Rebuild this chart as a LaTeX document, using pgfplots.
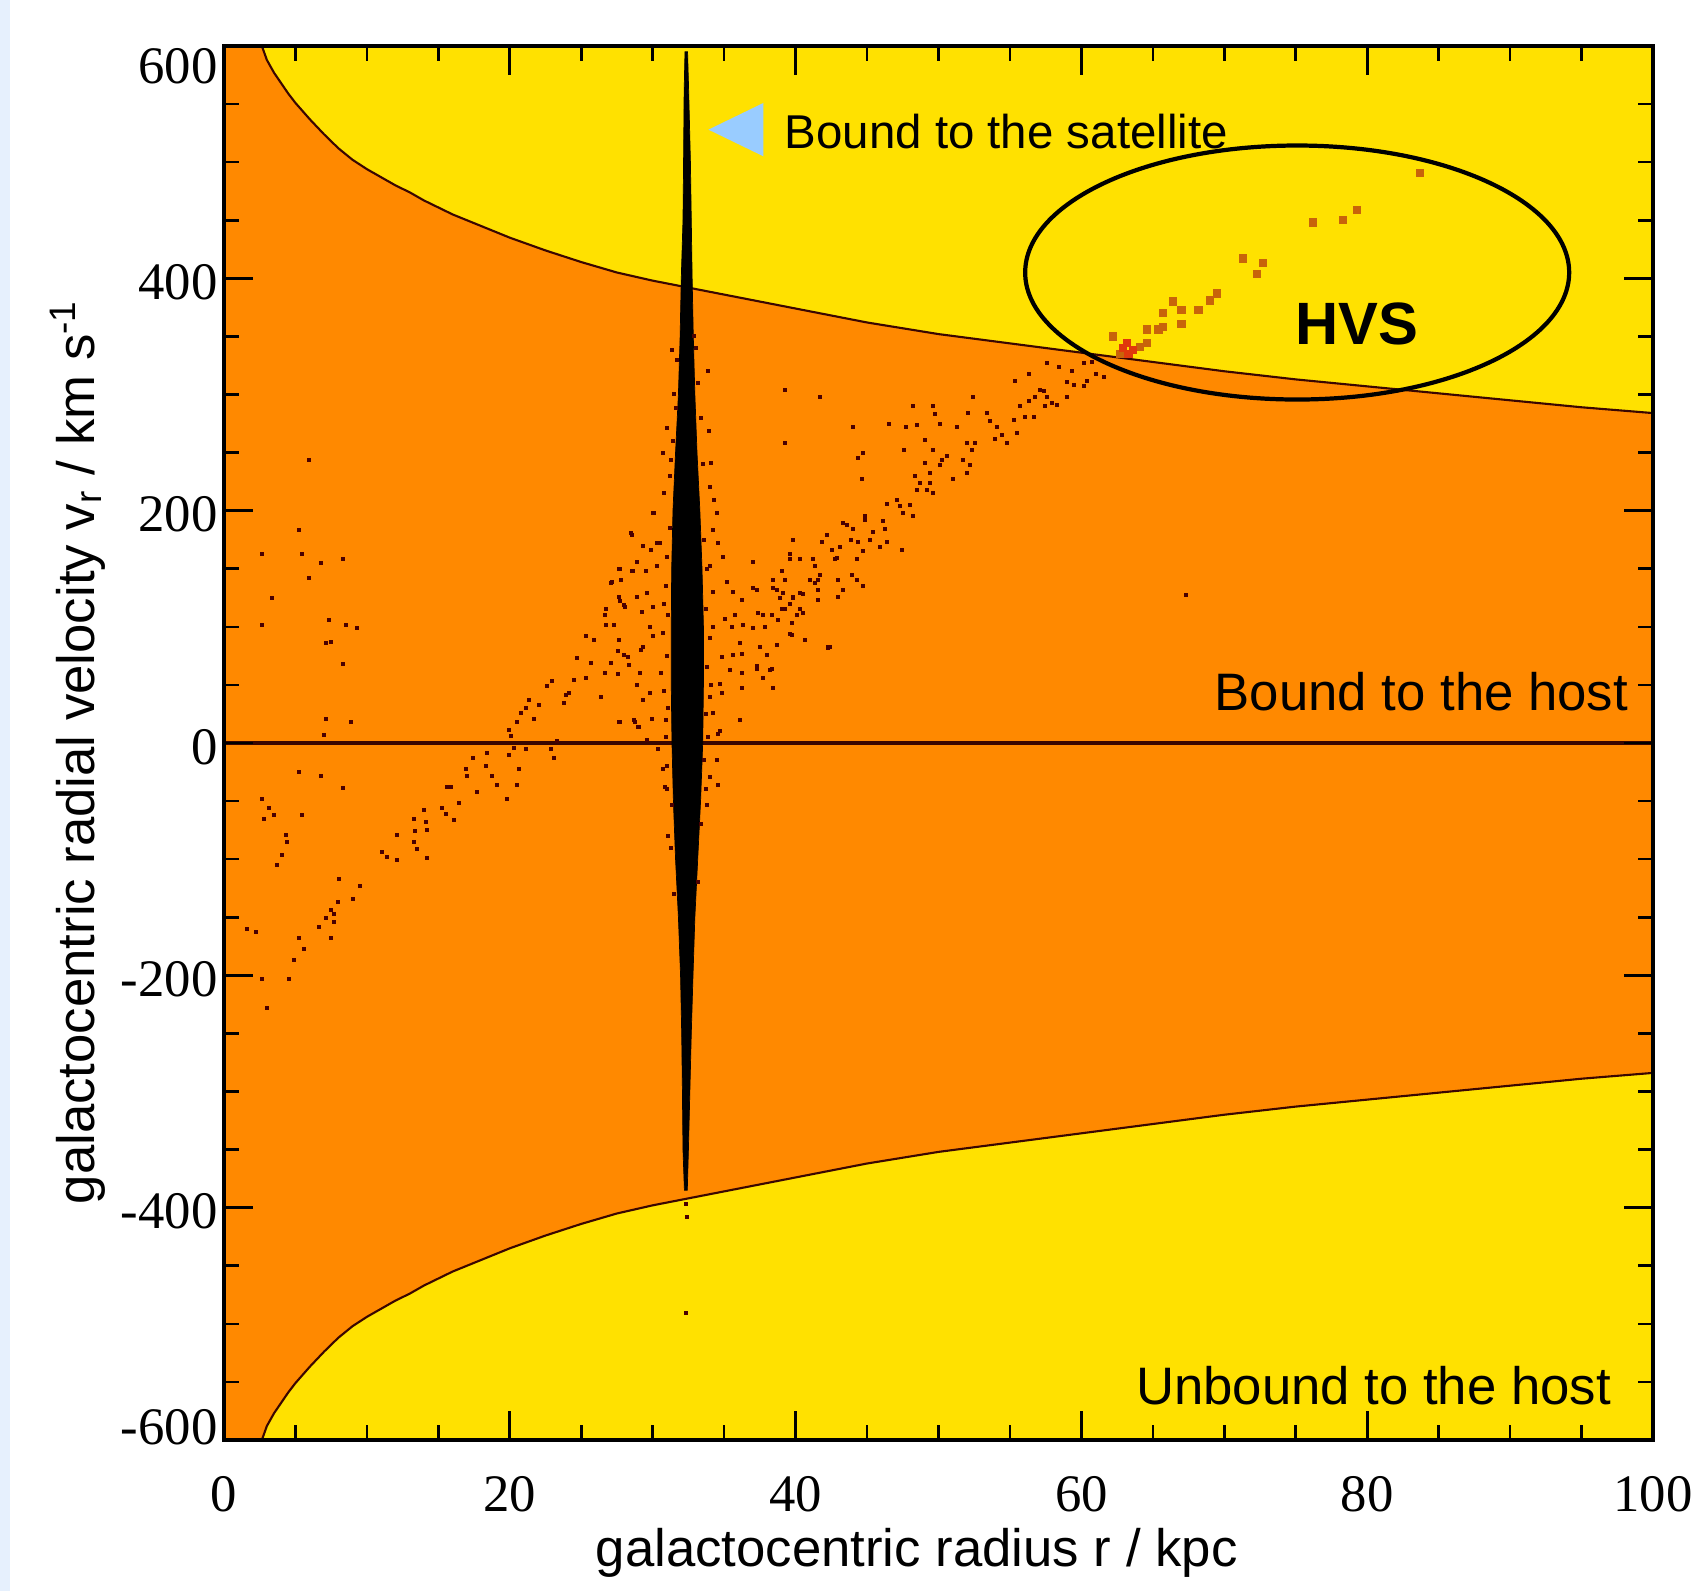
\documentclass[border=0pt]{standalone}
\usepackage{pgfplots}
\pgfplotsset{compat=1.18}
\usetikzlibrary{calc}
\usepackage{fontspec}
\setmainfont{Liberation Sans}
\newfontfamily\serifnum{Liberation Serif}

\definecolor{hostyellow}{HTML}{FFE100}
\definecolor{hostorange}{HTML}{FF8900}
\definecolor{edgebrown}{HTML}{3A0600}
\definecolor{dotred}{HTML}{4A0000}
\definecolor{hvsbrown}{HTML}{C8640A}
\definecolor{hvsred}{HTML}{E0380C}
\definecolor{satblue}{HTML}{99CCFF}
\definecolor{stripblue}{HTML}{E6F0FD}

\begin{document}
\begin{tikzpicture}
\begin{axis}[
  scale only axis, width=142.9mm, height=139.4mm,
  xmin=0, xmax=100, ymin=-600, ymax=600,
  axis on top,
  axis background/.style={fill=hostyellow},
  axis line style={line width=0.9pt},
  xtick={0,20,40,60,80,100}, xticklabels={0,20,40,60,80,100},
  ytick={-600,-400,-200,0,200,400,600},
  yticklabels={\raisebox{1.7mm}[\height][\depth]{-600},-400,-200,0,200,400,\raisebox{-1.6mm}[\height][\depth]{600}},
  minor x tick num=3, minor y tick num=3,
  tick align=inside,
  major tick length=2.9mm, minor tick length=1.5mm,
  every tick/.style={black, line width=0.75pt},
  ticklabel style={font=\serifnum\fontsize{15}{15}\selectfont},
  xticklabel style={yshift=-2.4mm},
  yticklabel style={xshift=0.6mm, yshift=-0.4mm},
  xlabel={galactocentric radius r / kpc},
  ylabel={galactocentric radial velocity v\textsubscript{r} / km s\textsuperscript{-1}},
  label style={font=\fontsize{15}{18}\selectfont},
  xlabel style={at={(axis description cs:0.4847,-0.0811)}, anchor=center},
  ylabel style={at={(axis description cs:-0.1022,0.4935)}, anchor=center},
]

% bound region between +/- escape velocity
\addplot[draw=none, fill=hostorange] coordinates {
 (0,600) (2.65,600) (3.0,588) (3.5,577) (4.0,568) (4.5,559) (5.0,551) (6.0,537) (7.0,524)
 (8.0,512) (9.0,502) (10.0,494) (11.0,487) (12.0,480) (13.0,474) (14.0,467) (15.0,461)
 (16.0,455) (18.0,445) (20.0,435) (22.5,424) (25.0,414) (27.5,405) (30.0,398) (32.5,392)
 (35,386) (37.5,380) (40,374) (42.5,368) (45,362) (47.5,357) (50,352) (55,344) (60,336)
 (65,328) (70,320) (75,313) (80,307) (85,301) (90,295) (95,289) (100,284)
 (100,-284) (95,-289) (90,-295) (85,-301) (80,-307) (75,-313) (70,-320) (65,-328) (60,-336)
 (55,-344) (50,-352) (47.5,-357) (45,-362) (42.5,-368) (40,-374) (37.5,-380) (35,-386)
 (32.5,-392) (30.0,-398) (27.5,-405) (25.0,-414) (22.5,-424) (20.0,-435) (18.0,-445)
 (16.0,-455) (15.0,-461) (14.0,-467) (13.0,-474) (12.0,-480) (11.0,-487) (10.0,-494)
 (9.0,-502) (8.0,-512) (7.0,-524) (6.0,-537) (5.0,-551) (4.5,-559) (4.0,-568) (3.5,-577)
 (3.0,-588) (2.65,-600) (0,-600)} -- cycle;

\addplot[edgebrown, line width=0.6pt] coordinates {
 (2.65,600) (3.0,588) (3.5,577) (4.0,568) (4.5,559) (5.0,551) (6.0,537) (7.0,524)
 (8.0,512) (9.0,502) (10.0,494) (11.0,487) (12.0,480) (13.0,474) (14.0,467) (15.0,461)
 (16.0,455) (18.0,445) (20.0,435) (22.5,424) (25.0,414) (27.5,405) (30.0,398) (32.5,392)
 (35,386) (37.5,380) (40,374) (42.5,368) (45,362) (47.5,357) (50,352) (55,344) (60,336)
 (65,328) (70,320) (75,313) (80,307) (85,301) (90,295) (95,289) (100,284)};
\addplot[edgebrown, line width=0.6pt] coordinates {
 (2.65,-600) (3.0,-588) (3.5,-577) (4.0,-568) (4.5,-559) (5.0,-551) (6.0,-537) (7.0,-524)
 (8.0,-512) (9.0,-502) (10.0,-494) (11.0,-487) (12.0,-480) (13.0,-474) (14.0,-467) (15.0,-461)
 (16.0,-455) (18.0,-445) (20.0,-435) (22.5,-424) (25.0,-414) (27.5,-405) (30.0,-398) (32.5,-392)
 (35,-386) (37.5,-380) (40,-374) (42.5,-368) (45,-362) (47.5,-357) (50,-352) (55,-344) (60,-336)
 (65,-328) (70,-320) (75,-313) (80,-307) (85,-301) (90,-295) (95,-289) (100,-284)};

\addplot[edgebrown, line width=0.9pt] coordinates {(0,0) (100,0)};

% stripped particles
\addplot[only marks, color=dotred, mark=square*, mark size=0.15mm, mark options={draw=dotred, fill=dotred, line width=0pt}] coordinates {
 (5.25,183) (2.68,163) (5.48,163) (6.76,155) (8.35,158) (5.95,142) (3.38,125) (2.68,102)
 (7.35,106) (8.51,102) (9.33,99) (7.11,86) (7.46,87) (8.33,68) (7.11,21) (8.86,18) (7.0,7)
 (5.25,-25) (6.76,-28) (8.35,-39) (2.68,-48) (3.15,-56) (3.5,-62) (5.48,-62) (2.8,-65)
 (4.32,-79) (4.39,-85) (4.08,-96) (3.73,-105) (8.05,-117) (9.52,-123) (9.05,-134) (8.0,-137)
 (7.46,-144) (7.7,-147) (7.11,-151) (7.7,-154) (6.65,-158) (1.63,-160) (2.22,-163) (7.46,-168)
 (5.25,-168) (5.6,-177) (4.9,-187) (2.68,-203) (4.55,-203) (3.0,-228) (5.95,244)
 (11.08,-94) (11.43,-98) (12.13,-101) (12.08,-79) (13.3,-65) (13.37,-76) (13.3,-85) (13.48,-91)
 (14.23,-99) (14.0,-58) (14.23,-75) (14.11,-68) (15.28,-56) (15.51,-61) (16.1,-66) (15.63,-38)
 (15.86,-38) (16.44,-52) (16.91,-22) (17.03,-28) (17.45,-13) (17.73,-42) (18.31,-20) (18.43,-9)
 (18.78,-28) (19.13,-36) (19.83,-48) (20.53,-36) (20.64,-22) (19.94,-10) (20.29,-4) (21.11,-5)
 (22.86,-5) (23.09,-13) (23.33,2) (19.94,11) (20.06,6) (20.53,18) (20.76,26) (21.11,30)
 (21.69,21) (21.34,37) (22.04,33) (22.63,49) (22.98,53) (23.79,34) (24.14,43) (24.49,54)
 (24.73,73) (25.31,92) (25.89,89) (25.66,69) (26.36,40) (25.31,56) (23.91,41) (27.06,138)
 (26.71,115) (27.76,140) (27.64,126) (27.99,119) (26.71,102) (27.29,102) (27.64,89) (27.06,69)
 (28.93,156) (28.57,148) (29.16,80) (27.99,76) (28.34,67) (29.27,113) (28.93,126) (27.64,18)
 (28.69,20) (29.04,14) (27.64,150) (28.46,181) (29.51,148) (29.86,166) (30.33,172) (30.09,198)
 (30.04,198) (28.53,179) (29.34,170) (30.5,172) (30.27,152) (28.64,148) (27.71,150) (27.13,139)
 (26.66,110) (27.71,122) (28.06,117) (28.88,126) (29.57,129) (30.04,117) (29.81,100) (30.04,92)
 (29.34,83) (27.6,79) (28.29,74) (29.11,60) (26.66,60) (27.6,59) (28.88,50) (29.81,43)
 (29.34,37) (27.71,18) (28.76,18) (28.99,14) (29.92,21) (29.57,3) (30.74,-22) (30.85,-38)
 (31.32,-53) (30.97,-40) (33.78,-53) (34.59,-36) (34.01,-29) (34.48,-15) (30.6,60) (30.8,120)
 (30.9,20) (30.7,250) (31.03,271) (31.26,244) (34.06,241) (34.29,209) (30.09,198) (31.37,338)
 (32.89,350) (33.94,269) (31.6,288) (30.4,-5) (34.7,10) (34.9,160) (33.9,320) (31.1,-80)
 (31.0,-20) (30.9,5) (31.1,30) (30.8,45) (31.0,75) (30.7,95) (31.1,110) (30.9,135) (31.0,160)
 (31.2,185) (30.8,215) (31.2,230) (31.4,260) (31.5,300) (31.7,330)
 (33.7,-40) (33.6,-15) (33.9,5) (33.7,25) (34.1,50) (33.8,65) (34.0,90) (33.7,115) (34.2,130)
 (33.8,150) (33.6,175) (34.0,220) (33.5,240) (33.4,280) (33.2,310) (33.0,340) (33.4,-70)
 (31.3,-90) (33.2,-120) (31.5,-130)
 (34.48,198) (34.25,183) (34.59,172) (34.01,152) (35.17,139) (35.63,130) (35.05,107) (36.22,123)
 (35.75,110) (36.33,102) (34.25,100) (36.1,86) (34.82,74) (35.4,63) (36.22,60) (34.82,43)
 (36.1,20) (34.59,8) (34.25,26) (34.01,40) (37.03,156) (37.27,132) (37.74,110) (37.85,100)
 (37.27,66) (37.74,56) (38.44,47) (38.2,63) (39.02,148) (39.26,140) (39.84,126) (40.31,129)
 (40.54,112) (39.61,158) (38.44,133) (39.02,115) (39.72,93) (40.66,89) (42.27,83) (41.57,140)
 (41.57,123) (42.97,140) (43.32,189) (44.83,195) (43.9,175) (42.74,158) (41.34,152) (39.84,175)
 (34.71,51) (36.11,20) (36.23,47) (37.28,64) (37.74,56) (38.44,47) (38.32,64) (37.51,83)
 (37.97,76) (38.67,84) (36.11,86) (35.65,76) (36.23,77) (35.52,100) (37.04,99) (37.39,112)
 (37.04,133) (38.44,140) (38.67,132) (38.32,110) (38.79,106) (39.26,115) (39.61,120) (39.73,103)
 (40.08,110) (40.31,115) (39.61,94) (38.9,125) (39.14,129) (39.84,125) (40.54,128) (40.31,158)
 (39.61,163) (41.24,158) (41.0,140) (41.36,138) (41.71,145) (41.59,132) (42.17,179) (41.82,173)
 (42.52,166) (42.87,159) (43.11,169) (42.99,126) (42.41,83) (43.34,132) (43.92,145) (44.28,158)
 (44.74,135) (44.28,140) (43.57,188) (44.04,184) (44.39,173) (44.86,192) (45.21,175) (45.44,182)
 (46.14,191) (46.26,184) (46.38,173) (45.91,169) (44.74,165) (47.43,166) (46.38,206) (47.08,209)
 (47.31,204) (48.01,205) (48.24,195) (47.54,198) (48.47,218) (48.71,224) (49.18,218) (49.41,224)
 (49.64,215) (49.41,232) (49.06,241) (50.1,239) (50.57,247) (51.04,227) (51.97,232) (52.2,239)
 (51.74,244) (52.32,252) (52.55,258) (51.97,258) (51.27,272) (49.64,252) (50.1,275) (49.76,283)
 (48.47,274) (48.24,290) (46.55,275) (47.71,272) (47.59,252) (44.04,272) (44.74,250) (44.39,245)
 (44.63,227) (49.06,261) (48.36,230) (50.22,244) (53.38,284) (53.61,277) (54.08,272) (53.96,262)
 (54.43,265) (54.78,258) (55.48,267) (55.25,278) (55.72,290) (56.3,294) (56.07,281) (56.65,281)
 (56.77,298) (57.12,304) (57.59,298) (57.94,293) (58.29,291) (57.47,290) (55.36,312) (56.3,318)
 (57.59,327) (58.4,324) (58.99,311) (58.99,298) (59.45,308) (60.15,307) (59.34,320) (60.15,327)
 (60.73,328) (61.55,315) (57.35,303) (52.43,298) (52.08,284) (49.64,290) (39.26,304) (41.71,298)
 (39.26,258) (42.29,82) (60.4,312) (61.0,318) (67.3,127) (32.4,-408) (32.3,-491) (32.35,-397)
};

% satellite core
\addplot[fill=black, draw=black, line width=0.2pt] coordinates {
 (32.26,595) (32.20,560) (32.16,500) (32.12,450) (32.00,400) (31.92,350) (31.80,300)
 (31.60,250) (31.42,200) (31.33,150) (31.30,100) (31.30,50) (31.35,0) (31.45,-50)
 (31.60,-100) (31.80,-150) (31.95,-200) (32.03,-250) (32.08,-300) (32.12,-350) (32.22,-385)
 (32.42,-385) (32.50,-350) (32.60,-300) (32.70,-250) (32.82,-200) (32.95,-150) (33.15,-100)
 (33.35,-50) (33.50,0) (33.55,50) (33.55,100) (33.45,150) (33.30,200) (33.10,250) (32.95,300)
 (32.84,350) (32.76,400) (32.70,450) (32.64,500) (32.52,560) (32.44,595)} -- cycle;

% hypervelocity stars
\addplot[only marks, color=hvsbrown, mark=square*, mark size=0.36mm, mark options={draw=hvsbrown, fill=hvsbrown, line width=0pt}] coordinates {
 (83.7,491) (76.2,448) (78.3,450) (79.3,459) (71.3,417) (72.7,413) (72.3,404) (69.5,387)
 (69.0,381) (68.2,373) (66.4,380) (67.0,373) (67.0,361) (65.7,370) (65.7,358) (65.4,356)
 (64.6,356) (64.6,344) (64.1,341) (62.2,350) (62.7,335)};
\addplot[only marks, color=hvsred, mark=square*, mark size=0.36mm, mark options={draw=hvsred, fill=hvsred, line width=0pt}] coordinates {
 (63.2,344) (63.3,335) (63.6,338) (62.9,340)};

\fill[satblue] (axis cs:33.9,528) -- (axis cs:37.75,551) -- (axis cs:37.75,505) -- cycle;
\node[anchor=west, inner sep=0pt, font=\fontsize{13.5}{16}\selectfont] at (axis cs:39.19,526) {Bound to the satellite};
\draw[black, line width=1.2pt] (axis cs:75.1,405) ellipse [x radius=27.2mm, y radius=12.7mm];
\node[font=\bfseries\fontsize{17}{20}\selectfont] at (axis cs:79.3,361) {HVS};
\node[anchor=east, inner sep=0pt, font=\fontsize{15}{18}\selectfont] at (axis cs:98.3,44.5) {Bound to the host};
\node[anchor=east, inner sep=0pt, font=\fontsize{15}{18}\selectfont] at (axis cs:97.1,-553) {Unbound to the host};

\coordinate (sw) at (rel axis cs:0,0);
\coordinate (ne) at (rel axis cs:1,1);
\end{axis}
\pgfresetboundingbox
\path[use as bounding box] ($(sw)+(-22.4mm,-15.1mm)$) rectangle ($(ne)+(3.8mm,4.6mm)$);
\fill[stripblue] ($(sw)+(-22.4mm,-15.1mm)$) rectangle ($(sw)+(-21.4mm,144.0mm)$);
\end{tikzpicture}
\end{document}
